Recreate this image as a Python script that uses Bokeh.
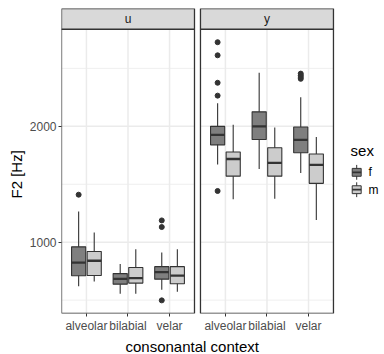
import numpy as np
from bokeh.plotting import figure
from bokeh.models import FixedTicker, CustomJSTickFormatter, Title, Range1d
from bokeh.core.properties import value
from bokeh.embed import file_html
from bokeh.resources import INLINE

# ---------------- data ----------------
vowels = ["u", "y"]
contexts = ["alveolar", "bilabial", "velar"]
sexes = ["f", "m"]
sex_fill = {"f": "#7f7f7f", "m": "#cccccc"}

box_vowel = ["u"] * 6 + ["y"] * 6
box_context = ["alveolar", "alveolar", "bilabial", "bilabial", "velar", "velar"] * 2
box_sex = ["f", "m"] * 6
whisk_lo = [620, 661, 556, 556, 590, 573, 1670, 1370, 1632, 1376, 1598, 1191]
q1 = [710, 712, 638, 647, 681, 641, 1840, 1570, 1886, 1570, 1772, 1508]
med = [823, 840, 684, 690, 741, 712, 1926, 1718, 2000, 1684, 1883, 1667]
q3 = [960, 920, 729, 781, 789, 789, 2000, 1778, 2125, 1815, 1994, 1761]
whisk_hi = [1265, 1083, 812, 940, 912, 940, 2199, 2014, 2462, 1989, 2251, 1909]

out_vowel = ["u", "u", "u", "u", "y", "y", "y", "y", "y", "y", "y", "y", "y"]
out_context = ["alveolar", "velar", "velar", "velar",
               "alveolar", "alveolar", "alveolar", "alveolar", "alveolar",
               "velar", "velar", "velar", "velar"]
out_sex = ["f"] * 13
out_value = [1410, 1188, 1131, 498, 2726, 2613, 2376, 2265, 1442, 2455, 2440, 2425, 2410]

y_major = [1000, 2000]
y_minor = [500, 1500, 2500]

# ---------------- layout ----------------
X_LO, PANEL_W, GAP, X_HI = 0.4, 3.2, 0.144, 8.172
PANEL_LO, PANEL_HI, STRIP_HI = 384.6, 2838, 3017
offset = {"u": 0.0, "y": PANEL_W + GAP}
dodge = {"f": -0.1875, "m": 0.1875}
HALF = 0.17
FONT = "Liberation Sans"
DARK = "#333333"


def xpos(v, c, s=None):
    return offset[v] + contexts.index(c) + 1 + (dodge[s] if s else 0.0)


p = figure(width=384, height=354, x_range=Range1d(X_LO, X_HI),
           y_range=Range1d(PANEL_LO, STRIP_HI), output_backend="svg",
           toolbar_location=None, min_border_left=61, min_border_right=0,
           min_border_top=8, min_border_bottom=38)
p.outline_line_color = None
p.xgrid.visible = False
p.ygrid.visible = False
p.background_fill_color = "white"
p.border_fill_color = "white"

pl = [X_LO + offset[v] for v in vowels]
pr = [X_LO + offset[v] + PANEL_W for v in vowels]

# grid
for v in vowels:
    l, r = X_LO + offset[v], X_LO + offset[v] + PANEL_W
    p.segment(x0=[l] * len(y_minor), x1=[r] * len(y_minor), y0=y_minor, y1=y_minor,
              line_color="#ebebeb", line_width=0.8)
    p.segment(x0=[l] * len(y_major), x1=[r] * len(y_major), y0=y_major, y1=y_major,
              line_color="#ebebeb", line_width=1.5)
    xs = [xpos(v, c) for c in contexts]
    p.segment(x0=xs, x1=xs, y0=[PANEL_LO] * 3, y1=[PANEL_HI] * 3,
              line_color="#ebebeb", line_width=1.5)

# boxplots
bx = [xpos(v, c, s) for v, c, s in zip(box_vowel, box_context, box_sex)]
fills = [sex_fill[s] for s in box_sex]
p.segment(x0=bx, x1=bx, y0=whisk_lo, y1=whisk_hi, line_color=DARK, line_width=1.1)
p.quad(left=[x - HALF for x in bx], right=[x + HALF for x in bx], bottom=q1, top=q3,
       fill_color=fills, line_color=DARK, line_width=1.1)
p.segment(x0=[x - HALF for x in bx], x1=[x + HALF for x in bx], y0=med, y1=med,
          line_color=DARK, line_width=2.3)
ox = [xpos(v, c, s) for v, c, s in zip(out_vowel, out_context, out_sex)]
p.scatter(x=ox, y=out_value, size=5, fill_color=DARK, line_color=DARK)

# panel borders and strips
p.quad(left=pl, right=pr, bottom=[PANEL_LO] * 2, top=[PANEL_HI] * 2,
       fill_alpha=0, line_color=DARK, line_width=1.3)
p.quad(left=pl, right=pr, bottom=[PANEL_HI] * 2, top=[STRIP_HI] * 2,
       fill_color="#d9d9d9", line_color=DARK, line_width=1.3)
p.text(x=[(a + b) / 2 for a, b in zip(pl, pr)], y=[(PANEL_HI + STRIP_HI) / 2] * 2,
       text=vowels, text_align="center", text_baseline="middle",
       text_font=value(FONT), text_font_size="12px", text_color="#1a1a1a")

# axes
ticks = [xpos(v, c) for v in vowels for c in contexts]
labels = [c for v in vowels for c in contexts]
p.xaxis.ticker = FixedTicker(ticks=ticks)
p.xaxis.formatter = CustomJSTickFormatter(args=dict(labels=labels), code="return labels[index]")
p.yaxis.ticker = FixedTicker(ticks=y_major)
for ax in (p.xaxis, p.yaxis):
    ax.axis_line_color = None
    ax.major_tick_line_color = DARK
    ax.major_tick_out = 3
    ax.major_tick_in = 0
    ax.minor_tick_line_color = None
    ax.major_label_text_font = FONT
    ax.major_label_text_font_size = "12px"
    ax.major_label_text_color = "#4d4d4d"
    ax.major_label_standoff = 2

p.add_layout(Title(text="F2 [Hz]", align="left", offset=115, standoff=3, text_font=FONT,
                   text_font_size="15px", text_font_style="normal",
                   text_color="black"), "left")
p.add_layout(Title(text="consonantal context", align="left", offset=64, standoff=0,
                   text_font=FONT, text_font_size="15px", text_font_style="normal",
                   text_color="black"), "below")

# legend (drawn manually)
LX, LHW = 7.503, 0.108
leg_y = {"f": 1603, "m": 1453}
ky = [leg_y[s] for s in sexes]
p.segment(x0=[LX] * 2, x1=[LX] * 2, y0=[y - 64 for y in ky], y1=[y + 64 for y in ky],
          line_color=DARK, line_width=1.0)
p.quad(left=[LX - LHW] * 2, right=[LX + LHW] * 2, bottom=[y - 34 for y in ky],
       top=[y + 34 for y in ky], fill_color=[sex_fill[s] for s in sexes],
       line_color=DARK, line_width=1.0)
p.segment(x0=[LX - LHW] * 2, x1=[LX + LHW] * 2, y0=ky, y1=ky, line_color=DARK, line_width=1.8)
p.text(x=[7.79] * 2, y=ky, text=sexes, text_align="left", text_baseline="middle",
       text_font=value(FONT), text_font_size="12px", text_color="black")
p.text(x=[7.356], y=[1795], text=["sex"], text_align="left", text_baseline="middle",
       text_font=value(FONT), text_font_size="15px", text_color="black")

open("out.html", "w").write(file_html(p, INLINE))
